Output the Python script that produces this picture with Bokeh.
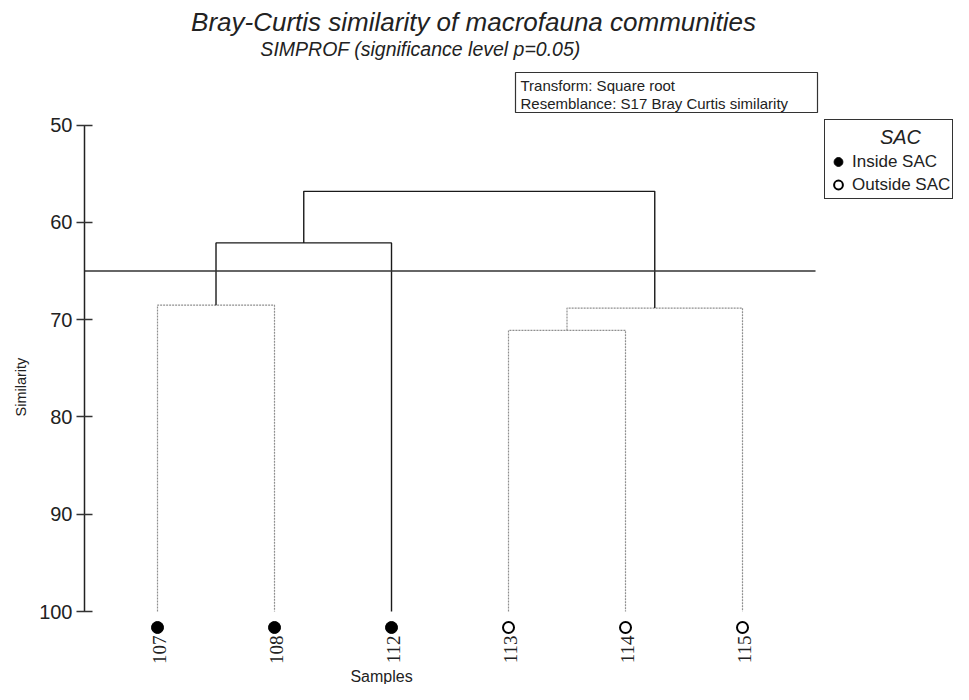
import math
from bokeh.plotting import figure
from bokeh.models import (Range1d, FixedTicker, Legend, LegendItem, Label,
                          BoxAnnotation, Title)
from bokeh.embed import file_html
from bokeh.resources import INLINE

# ---------------- data ----------------
samples = ["107", "108", "112", "113", "114", "115"]
inside_sac = [True, True, True, False, False, False]
# merges: node ids 0..5 are leaves, 6.. are merges in order
merge_a = [0, 6, 3, 8, 7]
merge_b = [1, 2, 4, 5, 9]
merge_h = [68.5, 62.1, 71.1, 68.8, 56.8]
merge_sig = [False, True, False, False, True]
leaf_level = 100.0
cut_level = 65.0
y_ticks = [50, 60, 70, 80, 90, 100]

# ---------------- layout constants ----------------
FONT = "Liberation Sans"
TXT = "#222222"
W, H = 953, 684
ML = 84
PX_X = 117.0            # px per leaf
PX_Y = 9.726            # px per similarity unit
PAD = 0.624             # leaf padding (units)
X_LEFT = -PAD
X_RIGHT = X_LEFT + (W - ML) / PX_X
Y_TOP = 50 - 124.7 / PX_Y
Y_BOT = 100 + (H - 611.0) / PX_Y


def ax(px):
    return X_LEFT + (px - ML) / PX_X


def ay(py):
    return Y_TOP + py / PX_Y


marker_level = ay(627)
label_level = ay(635)

# ---------------- dendrogram geometry ----------------
n = len(samples)
node_x = list(range(n))
node_h = [leaf_level] * n
solid_xs, solid_ys, dot_xs, dot_ys = [], [], [], []
for a, b, h, sig in zip(merge_a, merge_b, merge_h, merge_sig):
    xa, xb = node_x[a], node_x[b]
    ha, hb = node_h[a], node_h[b]
    xs = [xa, xa, xb, xb]
    ys = [ha, h, h, hb]
    if sig:
        solid_xs.append(xs); solid_ys.append(ys)
    else:
        dot_xs.append(xs); dot_ys.append(ys)
    node_x.append((xa + xb) / 2)
    node_h.append(h)

p = figure(width=W, height=H, output_backend="svg", toolbar_location=None,
           x_range=Range1d(X_LEFT, X_RIGHT), y_range=Range1d(Y_BOT, Y_TOP),
           min_border_left=ML, min_border_right=0, min_border_top=0,
           min_border_bottom=0)
p.grid.visible = False
p.outline_line_color = None
p.background_fill_color = "white"
p.xaxis.visible = False

p.multi_line(xs=dot_xs, ys=dot_ys, line_color="#8f8f8f", line_width=1.2,
             line_dash="2 1")
p.multi_line(xs=solid_xs, ys=solid_ys, line_color="#1a1a1a", line_width=1.4)
p.segment(x0=[X_LEFT], y0=[cut_level], x1=[n - 1 + PAD], y1=[cut_level],
          line_color="#333333", line_width=1.5)

x_in = [i for i in range(n) if inside_sac[i]]
x_out = [i for i in range(n) if not inside_sac[i]]
r_in = p.scatter(x=x_in, y=[marker_level] * len(x_in), size=12, marker="circle",
                 fill_color="black", line_color="black")
r_out = p.scatter(x=x_out, y=[marker_level] * len(x_out), size=11, marker="circle",
                  fill_color="white", line_color="black", line_width=2)

# sample (leaf) labels, reading bottom-to-top below each leaf
p.text(x=list(range(n)), y=[label_level] * n, text=samples, angle=math.pi / 2,
       text_align="right", text_baseline="middle", text_font_size="19px",
       text_font=FONT, text_color=TXT, x_offset=2)

# y axis
ya = p.yaxis[0]
ya.ticker = FixedTicker(ticks=y_ticks)
ya.bounds = (50, 100)
ya.axis_line_color = "#222222"
ya.axis_line_width = 1.5
ya.major_tick_in = 8
ya.major_tick_out = 8
ya.major_tick_line_color = "#333333"
ya.major_tick_line_width = 1.5
ya.minor_tick_line_color = None
ya.major_label_text_font = FONT
ya.major_label_text_font_size = "20px"
ya.major_label_text_color = TXT
ya.major_label_standoff = 4

# y axis title placed in the left panel
p.add_layout(Title(text="Similarity", align="left", offset=H - 416,
                   text_font=FONT, text_font_size="14.5px", text_font_style="normal",
                   text_color=TXT, standoff=16), "left")

p.add_layout(Label(x=ax(381), y=ay(676), text="Samples",
                   text_font=FONT, text_font_size="16px", text_align="center",
                   text_baseline="middle", text_color=TXT))

# titles
p.add_layout(Label(x=ax(473), y=ay(21), text="Bray-Curtis similarity of macrofauna communities",
                   text_font=FONT, text_font_size="26px", text_font_style="italic",
                   text_align="center", text_baseline="middle", text_color=TXT))
p.add_layout(Label(x=ax(420), y=ay(48), text="SIMPROF (significance level p=0.05)",
                   text_font=FONT, text_font_size="19.5px", text_font_style="italic",
                   text_align="center", text_baseline="middle", text_color=TXT))

# resemblance info box
p.add_layout(BoxAnnotation(left=ax(515), right=ax(817), top=ay(72), bottom=ay(112),
                           fill_color="white", fill_alpha=1.0,
                           line_color="#333333", line_alpha=1.0, line_width=1.2))
p.add_layout(Label(x=ax(520), y=ay(76),
                   text="Transform: Square root\nResemblance: S17 Bray Curtis similarity",
                   text_font=FONT, text_font_size="15px", text_align="left",
                   text_baseline="top", text_color=TXT, text_line_height=1.1))

# legend
p.add_layout(Label(x=ax(900), y=ay(136), text="SAC",
                   text_font=FONT, text_font_size="20px", text_font_style="italic",
                   text_align="center", text_baseline="middle", text_color=TXT))
legend = Legend(items=[LegendItem(label="Inside SAC", renderers=[r_in]),
                       LegendItem(label="Outside SAC", renderers=[r_out])],
                location=(824 - ML, H - 199),
                title=" ", title_text_font=FONT, title_text_font_size="19px",
                title_standoff=6,
                label_text_font=FONT, label_text_font_size="17px",
                label_text_color=TXT,
                glyph_width=22, glyph_height=23, label_standoff=3, padding=2,
                spacing=0, margin=0,
                border_line_color="#333333", border_line_alpha=1.0,
                border_line_width=1.2,
                background_fill_alpha=0.0)
p.add_layout(legend)

open("out.html", "w").write(file_html(p, INLINE))
